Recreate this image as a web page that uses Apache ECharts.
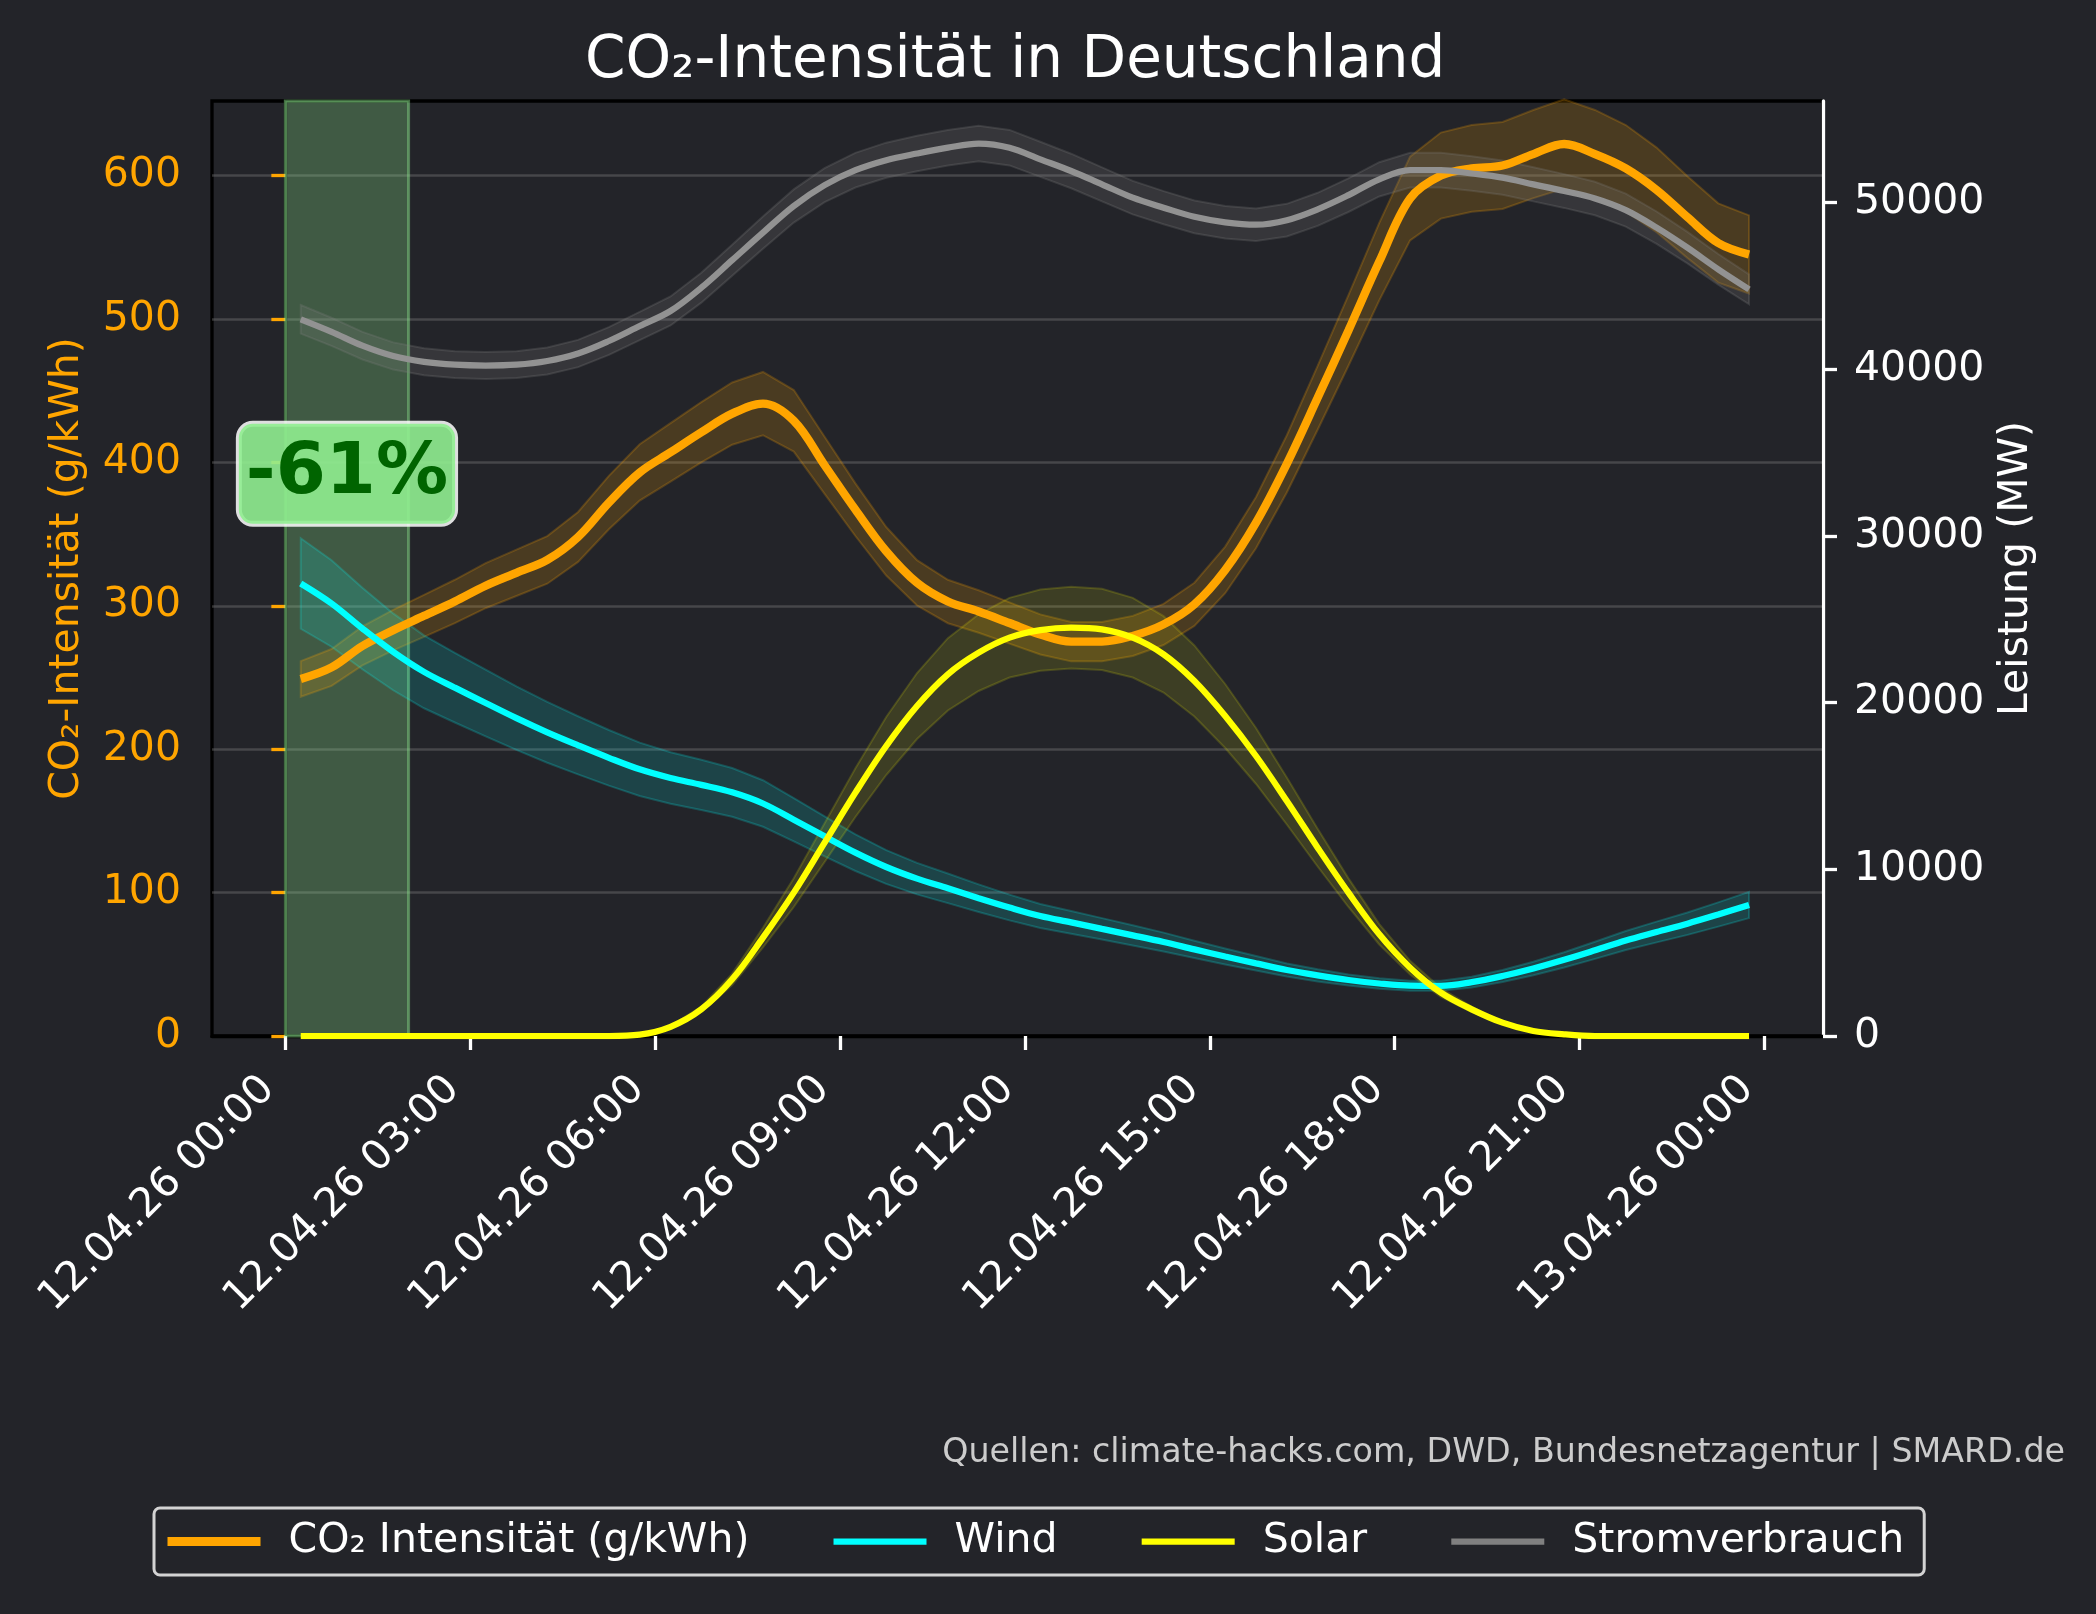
<!DOCTYPE html>
<html lang="de">
<head>
  <meta charset="UTF-8">
  <title>CO2-Intensität in Deutschland</title>
  <script src="https://cdn.jsdelivr.net/npm/echarts@6/dist/echarts.min.js"></script>
  <style>
    html, body { margin: 0; padding: 0; background: #232429; }
    #chart { width: 2096px; height: 1614px; }
  </style>
</head>
<body>
  <div id="chart"></div>
  <script>
    // Stunden seit 12.04.26 00:00 (halbstündlich)
    var TIMES = [0.25, 0.75, 1.25, 1.75, 2.25, 2.75, 3.25, 3.75, 4.25, 4.75, 5.25, 5.75,
      6.25, 6.75, 7.25, 7.75, 8.25, 8.75, 9.25, 9.75, 10.25, 10.75, 11.25, 11.75,
      12.25, 12.75, 13.25, 13.75, 14.25, 14.75, 15.25, 15.75, 16.25, 16.75, 17.25, 17.75,
      18.25, 18.75, 19.25, 19.75, 20.25, 20.75, 21.25, 21.75, 22.25, 22.75, 23.25, 23.75];

    // g/kWh
    var CO2 = [249, 257, 272, 283, 293, 303, 314, 323, 332, 348, 372, 393,
      407, 421, 434, 441, 429, 398, 367, 338, 316, 303, 296, 288,
      280, 275, 275, 279, 287, 301, 325, 358, 399, 445, 492, 540,
      584, 600, 605, 607, 615, 622, 615, 605, 590, 571, 553, 545];

    // MW
    var WIND = [27150, 25950, 24450, 23050, 21850, 20900, 19980, 19070, 18220, 17440, 16690, 16000,
      15480, 15070, 14620, 13950, 12980, 11980, 11000, 10140, 9440, 8860, 8270, 7710,
      7200, 6820, 6430, 6040, 5640, 5200, 4770, 4360, 3960, 3640, 3360, 3150,
      3020, 3010, 3230, 3600, 4050, 4570, 5140, 5730, 6240, 6740, 7290, 7860];

    var SOLAR = [0, 0, 0, 0, 0, 0, 0, 0, 0, 0, 0, 80,
      550, 1600, 3400, 5900, 8600, 11600, 14600, 17400, 19800, 21700, 23000, 23900,
      24350, 24500, 24400, 23900, 22900, 21300, 19200, 16800, 14100, 11300, 8600, 6100,
      4100, 2600, 1600, 800, 300, 100, 0, 0, 0, 0, 0, 0];

    var LOAD = [43000, 42250, 41420, 40800, 40450, 40280, 40230, 40280, 40500, 40950, 41700, 42600,
      43500, 44900, 46550, 48200, 49800, 51050, 51950, 52550, 52950, 53300, 53550, 53300,
      52600, 51900, 51100, 50300, 49700, 49150, 48820, 48680, 48950, 49600, 50450, 51400,
      51950, 51950, 51750, 51500, 51100, 50700, 50250, 49550, 48500, 47300, 46000, 44800];

    var X_TICKS = [0, 3, 6, 9, 12, 15, 18, 21, 24];
    var LEFT_TICKS = [0, 100, 200, 300, 400, 500, 600];
    var RIGHT_TICKS = [0, 10000, 20000, 30000, 40000, 50000];

    var HIGHLIGHT = [0, 2];        // grün markierter Zeitraum
    var ANNOTATION = [1, 392];     // Lage des -61%-Kastens
    var ANNOTATION_TEXT = '-61%';

    var FONT = 'DejaVu Sans';
    var BG = '#232429';

    function pairs(vals) {
      return TIMES.map(function (t, i) { return [t, vals[i]]; });
    }

    // Unsicherheitsband als Polygon über die Achsen
    function band(vals, frac, yIdx, fill, edge) {
      return {
        type: 'custom',
        yAxisIndex: yIdx,
        silent: true,
        z: 1,
        data: [[TIMES[0], vals[0]]],
        renderItem: function (params, api) {
          var pts = [];
          for (var i = 0; i < TIMES.length; i++) {
            pts.push(api.coord([TIMES[i], vals[i] * (1 + frac)]));
          }
          for (var j = TIMES.length - 1; j >= 0; j--) {
            pts.push(api.coord([TIMES[j], vals[j] * (1 - frac)]));
          }
          return {
            type: 'polygon',
            shape: { points: pts },
            style: { fill: fill, stroke: edge, lineWidth: 2 }
          };
        }
      };
    }

    function line(name, vals, yIdx, color, width, z) {
      return {
        name: name,
        type: 'line',
        yAxisIndex: yIdx,
        data: pairs(vals),
        symbol: 'none',
        smooth: 0.35,
        z: z,
        lineStyle: { color: color, width: width },
        itemStyle: { color: color }
      };
    }

    function xLabel(v) {
      var h = Math.round(v);
      var day = h >= 24 ? '13' : '12';
      var hh = h % 24;
      return day + '.04.26 ' + (hh < 10 ? '0' + hh : hh) + ':00';
    }

    function legendItem(name, color, width) {
      return {
        name: name,
        lineStyle: { color: color, width: width },
        itemStyle: { color: 'rgba(0,0,0,0)', borderWidth: 0 }
      };
    }

    var chart = echarts.init(document.getElementById('chart'));

    var option = {
      backgroundColor: BG,
      animation: false,
      textStyle: { fontFamily: FONT },
      grid: {
        left: 212, top: 101, width: 1611, height: 935,
        show: true, borderColor: '#000', borderWidth: 3.3,
        backgroundColor: 'transparent'
      },
      graphic: [
        {
          type: 'text', left: 1017 - 432, top: 33,
          style: {
            text: 'CO₂-Intensität in Deutschland', fill: '#ffffff',
            font: '58px "DejaVu Sans"'
          }
        },
        {
          type: 'text', right: 31, top: 1437,
          style: {
            text: 'Quellen: climate-hacks.com, DWD, Bundesnetzagentur | SMARD.de',
            fill: '#cccccc', font: '33.3px "DejaVu Sans"'
          }
        }
      ],
      legend: {
        left: 154, top: 1508,
        padding: [13, 20, 13, 9],
        itemWidth: 93, itemHeight: 2, itemGap: 81,
        backgroundColor: BG,
        borderColor: '#d3d3d3', borderWidth: 3, borderRadius: 6,
        textStyle: { color: '#ffffff', fontSize: 41, fontFamily: FONT, padding: [0, 0, 0, 23] },
        data: [
          legendItem('CO₂ Intensität (g/kWh)', '#FFA500', 9),
          legendItem('Wind', '#00FFFF', 6.25),
          legendItem('Solar', '#FFFF00', 6.25),
          legendItem('Stromverbrauch', '#808080', 6.25)
        ]
      },
      xAxis: {
        type: 'value', min: -1.19, max: 24.95,
        axisLine: { show: true, lineStyle: { color: '#000', width: 3.3 } },
        axisTick: { show: true, length: 14, customValues: X_TICKS, lineStyle: { color: '#ffffff', width: 3.3 } },
        axisLabel: {
          customValues: X_TICKS, rotate: 45, margin: 30,
          color: '#ffffff', fontSize: 41, fontFamily: FONT,
          padding: [0, 24, 0, 0],
          formatter: xLabel
        },
        splitLine: { show: false }
      },
      yAxis: [
        {
          type: 'value', min: 0, max: 652, interval: 100, position: 'left',
          name: 'CO₂-Intensität (g/kWh)', nameLocation: 'middle', nameRotate: 90, nameGap: 124,
          nameTextStyle: { color: '#FFA500', fontSize: 41, fontFamily: FONT },
          axisLine: { show: true, lineStyle: { color: '#000', width: 3.3 } },
          axisTick: { show: true, length: 14, customValues: LEFT_TICKS, lineStyle: { color: '#FFA500', width: 3.3 } },
          axisLabel: { customValues: LEFT_TICKS, margin: 31, color: '#FFA500', fontSize: 41, fontFamily: FONT },
          splitLine: { show: true, lineStyle: { color: 'rgba(128,128,128,0.38)', width: 2.5 } }
        },
        {
          type: 'value', min: 0, max: 56100, interval: 10000, position: 'right',
          name: 'Leistung (MW)', nameLocation: 'middle', nameRotate: 90, nameGap: 173,
          nameTextStyle: { color: '#ffffff', fontSize: 41, fontFamily: FONT },
          axisLine: { show: true, lineStyle: { color: '#ffffff', width: 3.3 } },
          axisTick: { show: true, length: 14, customValues: RIGHT_TICKS, lineStyle: { color: '#ffffff', width: 3.3 } },
          axisLabel: {
            customValues: RIGHT_TICKS, margin: 31, color: '#ffffff', fontSize: 41, fontFamily: FONT,
            formatter: function (v) { return String(v); }
          },
          splitLine: { show: false }
        }
      ],
      series: [
        band(CO2, 0.05, 0, 'rgba(255,165,0,0.18)', 'rgba(255,165,0,0.22)'),
        line('CO₂ Intensität (g/kWh)', CO2, 0, '#FFA500', 8.3, 3),
        band(WIND, 0.10, 1, 'rgba(0,255,255,0.15)', 'rgba(0,255,255,0.2)'),
        band(SOLAR, 0.10, 1, 'rgba(255,255,0,0.12)', 'rgba(255,255,0,0.16)'),
        band(LOAD, 0.02, 1, 'rgba(128,128,128,0.2)', 'rgba(128,128,128,0.25)'),
        line('Wind', WIND, 1, '#00FFFF', 6.25, 4),
        line('Solar', SOLAR, 1, '#FFFF00', 6.25, 4),
        line('Stromverbrauch', LOAD, 1, '#929292', 6.25, 4),
        {
          name: 'annotation',
          type: 'line',
          yAxisIndex: 0,
          data: [],
          z: 6,
          markPoint: {
            symbol: 'circle', symbolSize: 1,
            itemStyle: { color: 'rgba(0,0,0,0)' },
            label: {
              show: true, position: 'inside',
              formatter: ANNOTATION_TEXT,
              color: '#006400', fontSize: 72, fontWeight: 'bold', fontFamily: FONT,
              lineHeight: 84,
              backgroundColor: 'rgba(144,238,144,0.9)',
              borderColor: 'rgba(255,255,255,0.85)', borderWidth: 3, borderRadius: 14,
              padding: [8, 7]
            },
            data: [{ coord: ANNOTATION }]
          }
        },
        {
          name: 'highlight',
          type: 'line',
          yAxisIndex: 0,
          data: [],
          z: 10,
          markArea: {
            silent: true,
            itemStyle: {
              color: 'rgba(144,238,144,0.27)',
              borderColor: 'rgba(144,238,144,0.45)', borderWidth: 3
            },
            data: [[{ xAxis: HIGHLIGHT[0] }, { xAxis: HIGHLIGHT[1] }]]
          }
        }
      ]
    };

    chart.setOption(option);
  </script>
</body>
</html>
